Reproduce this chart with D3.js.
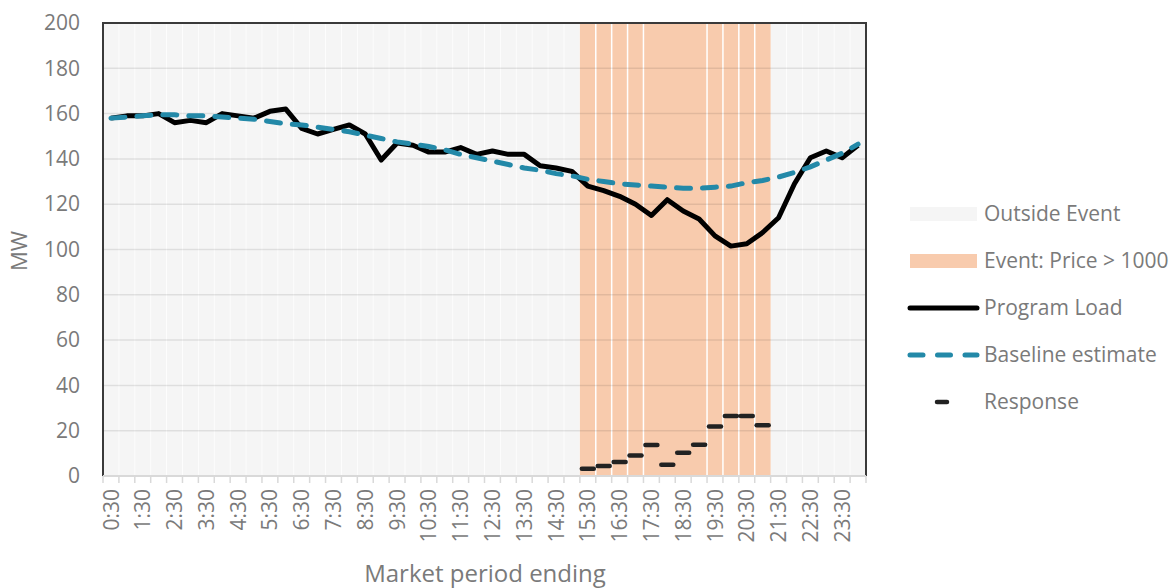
<!DOCTYPE html>
<html><head><meta charset="utf-8">
<script src="https://cdn.jsdelivr.net/npm/d3@7"></script>
<style>
html,body{margin:0;padding:0;background:#fff;}
svg{display:block;font-family:"Open Sans","Noto Sans",sans-serif;}
</style></head>
<body><svg id="chart" width="1176" height="588"></svg>
<script>
// ---- data ----
const periods = ["0:30","1:00","1:30","2:00","2:30","3:00","3:30","4:00","4:30","5:00","5:30","6:00",
 "6:30","7:00","7:30","8:00","8:30","9:00","9:30","10:00","10:30","11:00","11:30","12:00",
 "12:30","13:00","13:30","14:00","14:30","15:00","15:30","16:00","16:30","17:00","17:30","18:00",
 "18:30","19:00","19:30","20:00","20:30","21:00","21:30","22:00","22:30","23:00","23:30","24:00"];
const programLoad = [158,159,159,160,156,157,156,160,159,158,161,162,
 153.5,151,153,155,151,139.5,147,146,143,143,145,142,
 143.5,142,142,137,136,134.5,128,126,123.5,120,115,122,
 117,113.5,106,101.5,102.5,107.5,114,129,140.5,143.5,140.5,146];
const baseline = [158,158.5,159,159.5,159.5,159,159,158.5,158,157.5,156.5,155.5,
 155,154,153,152,150.5,149,147.5,146.5,145.5,144,142,140.5,
 139,137.5,136,135,133.5,132.5,131,130,129,128.5,128,127.5,
 127,127,127.5,128,129.5,130.5,132,134,136.5,139.5,142.5,146.5];
const responsePeriods = ["15:30","16:00","16:30","17:00","17:30","18:00","18:30","19:00","19:30","20:00","20:30","21:00"];
const responseValues = [3.2,4.4,6.2,9,13.7,5,10.3,13.8,21.8,26.5,26.5,22.4];
const eventBlocks = [["15:30","15:30"],["16:00","16:00"],["16:30","16:30"],["17:00","17:00"],
 ["17:30","19:00"],["19:30","19:30"],["20:00","20:00"],["20:30","20:30"],["21:00","21:00"]];
const yTicks = [0,20,40,60,80,100,120,140,160,180,200];
const xTickLabels = periods.filter((d,i)=>i%2===0);
const legendItems = ["Outside Event","Event: Price > 1000","Program Load","Baseline estimate","Response"];

// ---- layout ----
const svg = d3.select("#chart");
const L=103, R=866, T=23, B=476;
const x = d3.scaleBand().domain(periods).range([L,R]).padding(0);
const y = d3.scaleLinear().domain([0,200]).range([B,T]);
const cx = d => x(d)+x.bandwidth()/2;
const textCol = "#7a7a7a";
const ORANGE = "#f8cbad", GREY="#f5f5f5", TEAL="#2389a8";
const FONT = '"Open Sans",sans-serif';

// outside-event background
svg.append("rect").attr("x",L).attr("y",T).attr("width",R-L).attr("height",B-T).attr("fill",GREY);
svg.append("g").selectAll("line").data(periods.slice(1)).join("line")
 .attr("x1",d=>x(d)).attr("x2",d=>x(d)).attr("y1",T).attr("y2",B)
 .attr("stroke","#fff").attr("stroke-width",1).attr("opacity",0.8);

// event blocks
svg.append("g").selectAll("rect").data(eventBlocks).join("rect")
 .attr("x",d=>x(d[0])).attr("y",T).attr("width",d=>x(d[1])+x.bandwidth()-x(d[0])).attr("height",B-T)
 .attr("fill",ORANGE);
svg.append("g").selectAll("line").data(eventBlocks.slice(1)).join("line")
 .attr("x1",d=>x(d[0])).attr("x2",d=>x(d[0])).attr("y1",T).attr("y2",B)
 .attr("stroke","#fff").attr("stroke-width",1.5);

// gridlines
svg.append("g").selectAll("line").data(yTicks.filter(d=>d>0&&d<200)).join("line")
 .attr("x1",L).attr("x2",R).attr("y1",d=>y(d)).attr("y2",d=>y(d))
 .attr("stroke","#000").attr("stroke-opacity",0.09).attr("stroke-width",1.5);

// frame
svg.append("path").attr("d",`M${L},${B}V${T}H${R}V${B}`).attr("fill","none").attr("stroke","#3a3a3a").attr("stroke-width",2);

// x axis
const xAxis = d3.axisBottom(x).tickSize(0).tickFormat(d=>xTickLabels.includes(d)?d:"");
const gx = svg.append("g").attr("transform",`translate(0,${B})`).call(xAxis);
gx.select(".domain").remove();
gx.selectAll("text").attr("transform","rotate(-90)").attr("text-anchor","end")
 .attr("x",-13).attr("y",0).attr("dy","0.36em").attr("fill",textCol)
 .style("font-size","21px").style("font-family",FONT);
svg.append("line").attr("x1",L).attr("x2",R).attr("y1",B).attr("y2",B).attr("stroke","#d9d9d9").attr("stroke-width",2);
svg.append("g").selectAll("line").data(periods.concat(["end"])).join("line")
 .attr("x1",(d,i)=>L+i*x.bandwidth()).attr("x2",(d,i)=>L+i*x.bandwidth())
 .attr("y1",B).attr("y2",B+7).attr("stroke","#d9d9d9").attr("stroke-width",1.5);

// y axis labels
const yAxis = d3.axisLeft(y).tickValues(yTicks).tickSize(0).tickPadding(23);
const gy = svg.append("g").attr("transform",`translate(${L},0)`).call(yAxis);
gy.select(".domain").remove();
gy.selectAll("text").attr("fill",textCol).style("font-size","21px").style("font-family",FONT);

// axis titles
svg.append("text").attr("x",485).attr("y",582).attr("text-anchor","middle").attr("fill",textCol)
 .style("font-size","24px").text("Market period ending");
svg.append("text").attr("transform","translate(27,251) rotate(-90)").attr("text-anchor","middle").attr("fill",textCol)
 .style("font-size","22px").text("MW");

// lines
const line = d3.line().x((d,i)=>cx(periods[i])).y(d=>y(d));
svg.append("path").datum(programLoad).attr("d",line).attr("fill","none").attr("stroke","#000")
 .attr("stroke-width",5).attr("stroke-linejoin","round");
svg.append("path").datum(baseline).attr("d",line).attr("fill","none").attr("stroke",TEAL)
 .attr("stroke-width",5).attr("stroke-dasharray","14,12").attr("stroke-linecap","round");

// response markers
svg.append("g").selectAll("line").data(responseValues).join("line")
 .attr("x1",(d,i)=>cx(responsePeriods[i])-6).attr("x2",(d,i)=>cx(responsePeriods[i])+6)
 .attr("y1",d=>y(d)).attr("y2",d=>y(d))
 .attr("stroke","#222").attr("stroke-width",4.5).attr("stroke-linecap","round");

// legend
const lg = svg.append("g");
const ly = [214,261,308,355,402];
lg.append("rect").attr("x",910).attr("y",ly[0]-7).attr("width",67).attr("height",14).attr("fill",GREY);
lg.append("rect").attr("x",910).attr("y",ly[1]-7).attr("width",67).attr("height",14).attr("fill",ORANGE);
lg.append("line").attr("x1",910).attr("x2",977).attr("y1",ly[2]).attr("y2",ly[2]).attr("stroke","#000").attr("stroke-width",5).attr("stroke-linecap","round");
lg.append("line").attr("x1",910).attr("x2",977).attr("y1",ly[3]).attr("y2",ly[3]).attr("stroke",TEAL).attr("stroke-width",5).attr("stroke-dasharray","13,14.5").attr("stroke-linecap","round");
lg.append("line").attr("x1",937).attr("x2",947).attr("y1",ly[4]).attr("y2",ly[4]).attr("stroke","#222").attr("stroke-width",4.5).attr("stroke-linecap","round");
lg.selectAll("text").data(legendItems).join("text")
 .attr("x",984).attr("y",(d,i)=>ly[i]).attr("dy","0.35em").attr("fill",textCol)
 .style("font-size","21px").text(d=>d);
</script></body></html>
